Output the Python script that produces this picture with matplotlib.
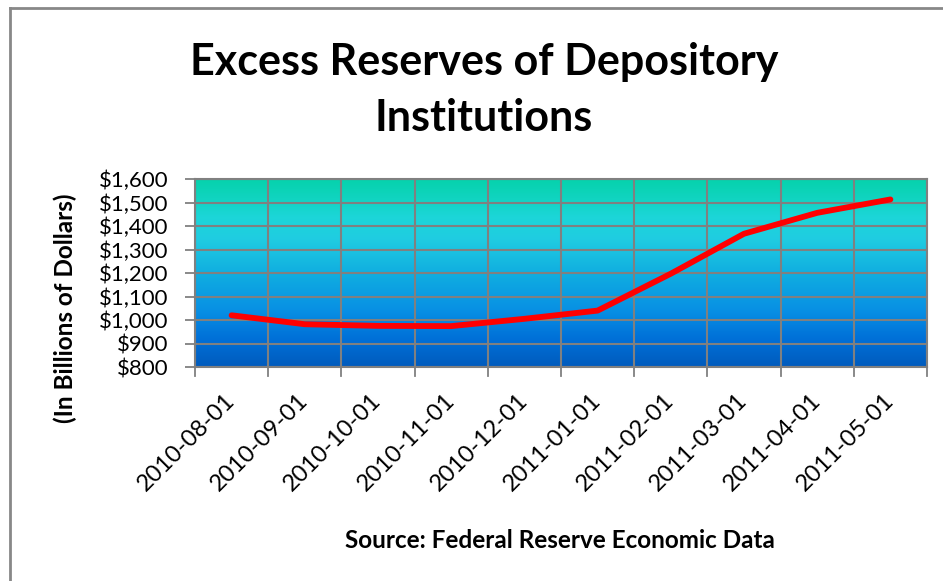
import numpy as np
import matplotlib.pyplot as plt
from matplotlib.colors import LinearSegmentedColormap
from matplotlib.lines import Line2D

dates = ['2010-08-01', '2010-09-01', '2010-10-01', '2010-11-01', '2010-12-01',
         '2011-01-01', '2011-02-01', '2011-03-01', '2011-04-01', '2011-05-01']
reserves = [1020, 982, 975, 974, 1005, 1040, 1197, 1367, 1456, 1513]
y_ticks = [800, 900, 1000, 1100, 1200, 1300, 1400, 1500, 1600]

plt.rcParams['font.family'] = ['Lato', 'DejaVu Sans']

fig = plt.figure(figsize=(9.43, 5.81), dpi=100)
ax = fig.add_axes([195 / 943, 1 - 367 / 581, (927 - 195) / 943, (367 - 179) / 581])

# ocean style gradient behind the plot
ocean = LinearSegmentedColormap.from_list('ocean_fill', [
    (0.00, '#005bbd'), (0.15, '#0070d8'), (0.30, '#0890e4'),
    (0.50, '#10aee0'), (0.68, '#20cce2'), (0.80, '#1cd6d8'),
    (0.90, '#10d4c0'), (1.00, '#06d2ac')])
grad = np.linspace(0, 1, 256).reshape(-1, 1)
ax.imshow(grad, cmap=ocean, aspect='auto', origin='lower',
          extent=[-0.5, len(dates) - 0.5, 800, 1600], zorder=0)

x = np.arange(len(dates))
ax.plot(x, reserves, color='#ff0000', lw=4.2, solid_capstyle='round',
        solid_joinstyle='round', zorder=3)

ax.set_xlim(-0.5, len(dates) - 0.5)
ax.set_ylim(800, 1600)
ax.set_yticks(y_ticks)
ax.set_yticklabels(['${:,}'.format(v) for v in y_ticks], fontsize=16)
ax.set_xticks(x)
ax.set_xticklabels(dates, rotation=45, ha='right', va='center',
                   rotation_mode='anchor', fontsize=17)
ax.tick_params(axis='x', length=0, pad=22)
ax.tick_params(axis='y', length=7, color='#808080', width=1.3, pad=12)

# grid lines at category boundaries and value ticks
for b in np.arange(-0.5, len(dates) + 0.5, 1):
    ax.axvline(b, color='#808080', lw=1.5, zorder=1)
    ax.plot([b, b], [-0.05, 0], transform=ax.get_xaxis_transform(),
            color='#808080', lw=1.3, clip_on=False)
for v in y_ticks:
    ax.axhline(v, color='#808080', lw=1.5, zorder=1)
for s in ax.spines.values():
    s.set_color('#808080')
    s.set_linewidth(1.5)

fig.text(484 / 943, 1 - 62 / 581, 'Excess Reserves of Depository',
         ha='center', va='center', fontsize=31, fontweight='bold')
fig.text(484 / 943, 1 - 118 / 581, 'Institutions',
         ha='center', va='center', fontsize=31, fontweight='bold')
fig.text(65 / 943, 1 - 308 / 581, '(In Billions of Dollars)', rotation=90,
         ha='center', va='center', fontsize=17.5, fontweight='bold')
fig.text(560 / 943, 1 - 540 / 581, 'Source: Federal Reserve Economic Data',
         ha='center', va='center', fontsize=17.5, fontweight='bold')

# chart frame, top and left edges
fig.add_artist(Line2D([10 / 943, 10 / 943], [0, 1 - 8 / 581], color='#888888', lw=2,
                      transform=fig.transFigure))
fig.add_artist(Line2D([10 / 943, 1], [1 - 8 / 581, 1 - 8 / 581], color='#888888', lw=2,
                      transform=fig.transFigure))

fig.savefig('out.png', dpi=100)
